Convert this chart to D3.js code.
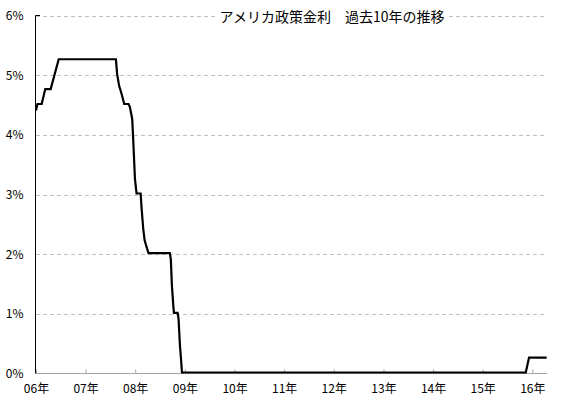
<!DOCTYPE html>
<html><head><meta charset="utf-8">
<script src="https://cdn.jsdelivr.net/npm/d3@7"></script>
<style>
html,body{margin:0;padding:0;background:#fff;}
svg{display:block;}
text{font-family:"Noto Sans CJK JP","Noto Sans",sans-serif;}
</style></head>
<body>
<svg id="c" width="567" height="404"></svg>
<script>
// Data (dates of line vertices, policy rate in %)
const dates = ["2006-01-01","2006-01-12","2006-02-12","2006-03-10","2006-04-19","2006-06-17",
  "2007-08-12","2007-08-21","2007-09-05","2007-09-15","2007-09-25","2007-10-12","2007-11-13","2007-11-23",
  "2007-12-10","2007-12-17","2007-12-30","2008-01-11","2008-02-10","2008-02-17","2008-02-29","2008-03-10",
  "2008-03-25","2008-04-08","2008-09-12","2008-09-19","2008-09-27","2008-10-07","2008-10-12","2008-11-08",
  "2008-11-15","2008-11-25","2008-12-04","2008-12-10","2015-11-14","2015-12-08","2016-04-16"];
const rates = [4.39,4.5,4.5,4.75,4.75,5.25,
  5.25,5.0,4.8,4.73,4.65,4.5,4.5,4.45,
  4.25,3.92,3.25,3.0,3.0,2.75,2.41,2.22,
  2.1,2.0,2.0,1.9,1.46,1.13,1.0,1.0,
  0.9,0.46,0.2,0,0,0.25,0.25];
const xTickYears = ["2006","2007","2008","2009","2010","2011","2012","2013","2014","2015","2016"];
const xTickLabels = ["06年","07年","08年","09年","10年","11年","12年","13年","14年","15年","16年"];
const yTicks = [0,1,2,3,4,5,6];
const title = "アメリカ政策金利　過去10年の推移";

const parse = d3.timeParse("%Y-%m-%d");
const data = dates.map((d,i)=>({date:parse(d), v:rates[i]}));

const svg = d3.select("#c");
const x = d3.scaleTime().domain([parse("2006-01-01"), parse("2016-04-16")]).range([36, 546.7]);
const y = d3.scaleLinear().domain([0,6]).range([373.5, 15.5]);

// gridlines
svg.append("g").selectAll("line").data(yTicks.filter(d=>d>0)).join("line")
  .attr("x1",36).attr("x2",547)
  .attr("y1",d=>Math.round(y(d))+0.5).attr("y2",d=>Math.round(y(d))+0.5)
  .attr("stroke","#c0c0c0").attr("stroke-width",1).attr("stroke-dasharray","4,3");

// title with white background
const tg = svg.append("g");
const tt = tg.append("text").attr("x",332).attr("y",16).attr("text-anchor","middle")
  .attr("dominant-baseline","central").attr("font-size",14).attr("fill","#000").text(title);
const bb = tt.node().getBBox();
tg.insert("rect","text").attr("x",bb.x-3).attr("y",bb.y).attr("width",bb.width+6).attr("height",bb.height).attr("fill","#fff");

// x axis
const xAxis = d3.axisBottom(x)
  .tickValues(xTickYears.map(s=>parse(s+"-01-01")))
  .tickFormat((d,i)=>xTickLabels[i])
  .tickSizeInner(-4).tickSizeOuter(0).tickPadding(11);
const gx = svg.append("g").attr("transform","translate(0,373.5)").call(xAxis);
gx.select(".domain").attr("stroke","#a6a6a6").attr("d","M35.5,0H547");
gx.selectAll(".tick line").attr("stroke","#a6a6a6");
gx.selectAll(".tick text").attr("font-size",12).attr("fill","#000")
  .attr("font-family","\"Noto Sans CJK JP\",sans-serif");

// y axis
const yAxis = d3.axisLeft(y).tickValues(yTicks).tickFormat(d=>d+"%").tickSize(0).tickPadding(12);
const gy = svg.append("g").attr("transform","translate(35.5,0)").call(yAxis);
gy.select(".domain").attr("stroke","#000").attr("d","M0,15.5V373.5");
gy.selectAll(".tick text").attr("font-size",12).attr("fill","#000")
  .attr("font-family","\"Noto Sans CJK JP\",sans-serif");
svg.append("line").attr("x1",35.5).attr("x2",40).attr("y1",15.5).attr("y2",15.5).attr("stroke","#000");

// line
const line = d3.line().x(d=>x(d.date)).y(d=>y(d.v));
svg.append("path").datum(data).attr("d",line).attr("transform","translate(0,-1)")
  .attr("fill","none").attr("stroke","#000").attr("stroke-width",2.2).attr("stroke-linejoin","miter");
</script>
</body></html>
